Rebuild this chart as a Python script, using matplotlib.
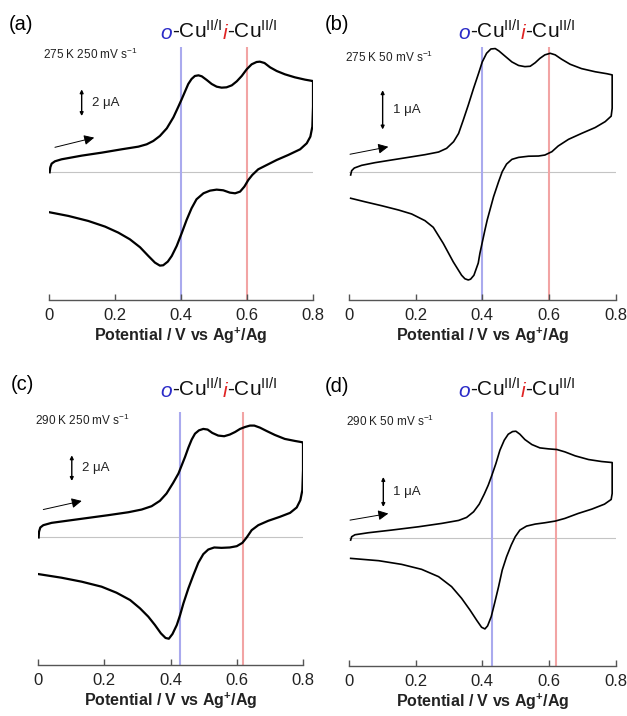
import matplotlib
matplotlib.use('Agg')
import matplotlib.pyplot as plt
from matplotlib.offsetbox import TextArea, HPacker, AnnotationBbox

plt.rcParams['font.family'] = ['Liberation Sans', 'DejaVu Sans']
plt.rcParams['mathtext.fontset'] = 'custom'
plt.rcParams['mathtext.rm'] = 'Liberation Sans'
plt.rcParams['mathtext.it'] = 'Liberation Sans:italic'
plt.rcParams['mathtext.bf'] = 'Liberation Sans:bold'

W, H = 627, 716

# ---- CV data (potential in V, current in uA) ----
# (a) 275 K 250 mV/s
a_fwd_E = [0.002, 0.004, 0.008, 0.018, 0.038, 0.099, 0.160, 0.220, 0.271, 0.296, 0.316, 0.336, 0.357, 0.377, 0.392, 0.402, 0.412, 0.422, 0.432, 0.442, 0.453, 0.463, 0.478, 0.493, 0.508, 0.523, 0.538, 0.554, 0.569, 0.584, 0.599, 0.614, 0.629, 0.639, 0.653, 0.670, 0.690, 0.715, 0.745, 0.776, 0.799]
a_fwd_I = [0.0, 0.375, 0.65, 0.825, 0.975, 1.25, 1.475, 1.725, 1.925, 2.10, 2.35, 2.725, 3.30, 4.125, 4.925, 5.475, 6.05, 6.625, 7.0, 7.225, 7.275, 7.2, 6.925, 6.625, 6.425, 6.35, 6.375, 6.525, 6.825, 7.225, 7.725, 8.10, 8.275, 8.30, 8.20, 7.875, 7.60, 7.35, 7.125, 6.95, 6.85]
a_rev_E = [0.80, 0.80, 0.798, 0.792, 0.781, 0.761, 0.725, 0.690, 0.660, 0.634, 0.616, 0.604, 0.592, 0.579, 0.564, 0.548, 0.528, 0.508, 0.488, 0.468, 0.447, 0.432, 0.417, 0.402, 0.387, 0.372, 0.360, 0.346, 0.336, 0.321, 0.301, 0.276, 0.245, 0.210, 0.170, 0.119, 0.059, 0.002]
a_rev_I = [6.80, 4.925, 3.425, 2.675, 2.175, 1.725, 1.30, 0.925, 0.55, 0.225, -0.2, -0.575, -1.075, -1.45, -1.575, -1.525, -1.35, -1.30, -1.375, -1.575, -2.025, -2.70, -3.575, -4.575, -5.525, -6.275, -6.70, -6.975, -7.0, -6.775, -6.275, -5.625, -5.025, -4.525, -4.075, -3.65, -3.275, -3.0]

# (b) 275 K 50 mV/s
b_fwd_E = [0.005, 0.008, 0.016, 0.038, 0.078, 0.128, 0.178, 0.228, 0.269, 0.293, 0.314, 0.329, 0.343, 0.358, 0.374, 0.389, 0.400, 0.413, 0.426, 0.439, 0.450, 0.468, 0.489, 0.509, 0.528, 0.544, 0.559, 0.573, 0.588, 0.604, 0.619, 0.638, 0.664, 0.698, 0.739, 0.774, 0.79]
b_fwd_I = [-0.068, 0.042, 0.11, 0.178, 0.246, 0.314, 0.381, 0.449, 0.517, 0.61, 0.78, 0.99, 1.33, 1.71, 2.14, 2.52, 2.81, 3.03, 3.14, 3.15, 3.09, 2.96, 2.81, 2.72, 2.69, 2.70, 2.79, 2.90, 2.99, 3.03, 2.99, 2.88, 2.75, 2.64, 2.56, 2.51, 2.48]
b_rev_E = [0.79, 0.79, 0.787, 0.769, 0.739, 0.698, 0.659, 0.628, 0.609, 0.588, 0.569, 0.539, 0.509, 0.489, 0.473, 0.460, 0.449, 0.434, 0.415, 0.408, 0.393, 0.388, 0.375, 0.365, 0.358, 0.348, 0.338, 0.313, 0.283, 0.253, 0.228, 0.188, 0.149, 0.098, 0.048, 0.005]
b_rev_I = [2.48, 1.63, 1.43, 1.29, 1.14, 0.99, 0.84, 0.67, 0.525, 0.44, 0.415, 0.41, 0.38, 0.33, 0.21, 0.017, -0.24, -0.62, -1.21, -1.47, -2.06, -2.31, -2.62, -2.72, -2.74, -2.71, -2.62, -2.28, -1.81, -1.40, -1.23, -1.06, -0.96, -0.85, -0.75, -0.66]

# (c) 290 K 250 mV/s
c_fwd_E = [0.002, 0.003, 0.007, 0.016, 0.041, 0.092, 0.152, 0.212, 0.273, 0.313, 0.343, 0.368, 0.388, 0.408, 0.424, 0.434, 0.444, 0.454, 0.464, 0.474, 0.486, 0.499, 0.512, 0.526, 0.544, 0.562, 0.579, 0.595, 0.610, 0.625, 0.640, 0.653, 0.670, 0.690, 0.715, 0.745, 0.776, 0.798]
c_fwd_I = [0.0, 0.44, 0.78, 0.96, 1.14, 1.32, 1.53, 1.74, 1.97, 2.18, 2.44, 2.86, 3.43, 4.26, 4.99, 5.64, 6.29, 7.01, 7.64, 8.10, 8.36, 8.47, 8.42, 8.16, 7.95, 7.90, 8.03, 8.23, 8.47, 8.62, 8.73, 8.73, 8.57, 8.31, 8.0, 7.69, 7.53, 7.43]
c_rev_E = [0.80, 0.80, 0.798, 0.792, 0.781, 0.761, 0.730, 0.695, 0.665, 0.645, 0.630, 0.617, 0.600, 0.579, 0.554, 0.532, 0.514, 0.499, 0.484, 0.469, 0.454, 0.439, 0.429, 0.419, 0.406, 0.395, 0.385, 0.371, 0.353, 0.333, 0.308, 0.278, 0.237, 0.192, 0.132, 0.071, 0.002]
c_rev_I = [7.32, 5.25, 3.69, 2.91, 2.34, 1.92, 1.61, 1.30, 0.96, 0.57, 0.0, -0.42, -0.68, -0.78, -0.81, -0.78, -0.94, -1.30, -1.97, -2.94, -3.97, -5.14, -6.05, -6.83, -7.53, -7.90, -7.84, -7.48, -6.83, -6.18, -5.53, -4.88, -4.31, -3.84, -3.45, -3.14, -2.86]

# (d) 290 K 50 mV/s
d_fwd_E = [0.005, 0.008, 0.018, 0.058, 0.128, 0.209, 0.278, 0.329, 0.353, 0.374, 0.391, 0.406, 0.418, 0.429, 0.441, 0.453, 0.466, 0.478, 0.491, 0.501, 0.513, 0.528, 0.549, 0.573, 0.599, 0.624, 0.648, 0.679, 0.719, 0.758, 0.79]
d_fwd_I = [-0.056, 0.056, 0.122, 0.189, 0.278, 0.389, 0.50, 0.60, 0.70, 0.889, 1.144, 1.478, 1.778, 2.111, 2.50, 2.944, 3.278, 3.478, 3.567, 3.578, 3.478, 3.30, 3.133, 3.022, 2.989, 2.967, 2.889, 2.756, 2.633, 2.567, 2.533]
d_rev_E = [0.79, 0.79, 0.787, 0.767, 0.729, 0.688, 0.648, 0.619, 0.588, 0.559, 0.533, 0.513, 0.499, 0.487, 0.473, 0.460, 0.449, 0.437, 0.427, 0.416, 0.408, 0.398, 0.384, 0.363, 0.338, 0.308, 0.269, 0.218, 0.158, 0.089, 0.005]
d_rev_I = [2.44, 1.50, 1.30, 1.144, 0.978, 0.833, 0.667, 0.578, 0.522, 0.478, 0.411, 0.278, 0.056, -0.222, -0.611, -1.056, -1.611, -2.167, -2.611, -2.922, -3.022, -2.967, -2.744, -2.389, -2.0, -1.611, -1.278, -1.033, -0.867, -0.744, -0.667]

panel_labels = ['(a)', '(b)', '(c)', '(d)']
conditions = ['275 K 250 mV s$^{-1}$', '275 K 50 mV s$^{-1}$',
              '290 K 250 mV s$^{-1}$', '290 K 50 mV s$^{-1}$']
scale_uA = [2, 1, 2, 1]
o_cu_E = [0.40, 0.40, 0.43, 0.43]
i_cu_E = [0.60, 0.60, 0.62, 0.62]
xticks = [0, 0.2, 0.4, 0.6, 0.8]
xticklabels = ['0', '0.2', '0.4', '0.6', '0.8']

curves = [(a_fwd_E, a_fwd_I, a_rev_E, a_rev_I),
          (b_fwd_E, b_fwd_I, b_rev_E, b_rev_I),
          (c_fwd_E, c_fwd_I, c_rev_E, c_rev_I),
          (d_fwd_E, d_fwd_I, d_rev_E, d_rev_I)]

# layout (pixels of the 627x716 picture): left, top, right, bottom
rects_px = [(49, 47, 313, 300), (349, 47, 615.5, 300),
            (38, 412, 303, 665), (349, 412, 615.5, 666)]
ylims = [(-9.58, 9.4), (-3.25, 3.19), (-9.95, 9.79), (-4.26, 4.22)]
line_w = [1.6, 1.2, 1.6, 1.2]
bar_pos = [(0.099, 4.22), (0.101, 1.09), (0.102, 4.41), (0.103, 1.05)]
scan_arrow = [((0.018, 1.875), (0.137, 2.6)), ((0.003, 0.46), (0.118, 0.65)),
              ((0.016, 2.18), (0.132, 2.85)), ((0.003, 0.61), (0.118, 0.83))]
cond_pos = [(-0.018, 8.87), (-0.012, 2.93), (-0.009, 9.14), (-0.009, 3.91)]
label_px = [(9, 25), (325, 24), (11, 384), (325, 386)]
title_px = [(219, 31), (517, 31), (219, 389), (517, 389)]

BLUE_LINE = '#aaaaee'
RED_LINE = '#f2a4a4'
AXIS_COL = '#555555'
TITLE_FS = 15

fig = plt.figure(figsize=(W / 100, H / 100), dpi=100)


def fig_xy(px, py):
    return px / W, 1 - py / H


for k in range(4):
    l, t, r, b = rects_px[k]
    ax = fig.add_axes([l / W, 1 - b / H, (r - l) / W, (b - t) / H])
    fE, fI, rE, rI = curves[k]

    ax.axhline(0, color='#c4c4c4', lw=0.8, zorder=1)
    ax.axvline(o_cu_E[k], color=BLUE_LINE, lw=1.5, zorder=1)
    ax.axvline(i_cu_E[k], color=RED_LINE, lw=1.5, zorder=1)
    ax.plot(fE + rE, fI + rI, color='black', lw=line_w[k], zorder=3,
            solid_joinstyle='round')

    ax.set_xlim(0, 0.8)
    ax.set_ylim(*ylims[k])
    for s in ['left', 'top', 'right']:
        ax.spines[s].set_visible(False)
    ax.spines['bottom'].set_color(AXIS_COL)
    ax.spines['bottom'].set_linewidth(1.0)
    ax.set_yticks([])
    ax.set_xticks(xticks)
    ax.set_xticklabels(xticklabels)
    ax.tick_params(axis='x', direction='in', length=4, width=1.0,
                   color=AXIS_COL, labelsize=12, pad=6, labelcolor='#222222')
    ax.set_xlabel('Potential / V vs Ag$^{\\mathbf{+}}$/Ag', fontsize=11.5,
                  fontweight='bold', labelpad=2, color='#222222')

    # condition text
    ax.text(cond_pos[k][0], cond_pos[k][1], conditions[k], fontsize=8.5,
            ha='left', va='center', color='#222222', clip_on=False)

    # scale bar
    bx, by = bar_pos[k]
    ax.annotate('', xy=(bx, by + scale_uA[k]), xytext=(bx, by),
                arrowprops=dict(arrowstyle='<|-|>', color='black', lw=1.0,
                                mutation_scale=5, shrinkA=0, shrinkB=0))
    ax.text(bx + 0.03, by + scale_uA[k] / 2, '%d \u03bcA' % scale_uA[k],
            fontsize=9.5, ha='left', va='center', color='#222222')

    # scan direction arrow
    (x0, y0), (x1, y1) = scan_arrow[k]
    ax.annotate('', xy=(x1, y1), xytext=(x0, y0), annotation_clip=False,
                arrowprops=dict(arrowstyle='-|>', color='black', lw=0.7,
                                mutation_scale=15, shrinkA=0, shrinkB=0))

    # panel label
    fx, fy = fig_xy(*label_px[k])
    fig.text(fx, fy, panel_labels[k], fontsize=14.5, ha='left', va='center')

    # coloured title
    parts = [TextArea('o', textprops=dict(color='#2b2bc8', style='italic', fontsize=TITLE_FS)),
             TextArea('-Cu$^{\\mathrm{II/I}}$', textprops=dict(color='#111111', fontsize=TITLE_FS)),
             TextArea('i', textprops=dict(color='#e02424', style='italic', fontsize=TITLE_FS)),
             TextArea('-Cu$^{\\mathrm{II/I}}$', textprops=dict(color='#111111', fontsize=TITLE_FS))]
    pack = HPacker(children=parts, align='baseline', pad=0, sep=0)
    ab = AnnotationBbox(pack, fig_xy(*title_px[k]), xycoords='figure fraction',
                        frameon=False, box_alignment=(0.5, 0.5))
    fig.add_artist(ab)

fig.savefig('out.png', dpi=100)
